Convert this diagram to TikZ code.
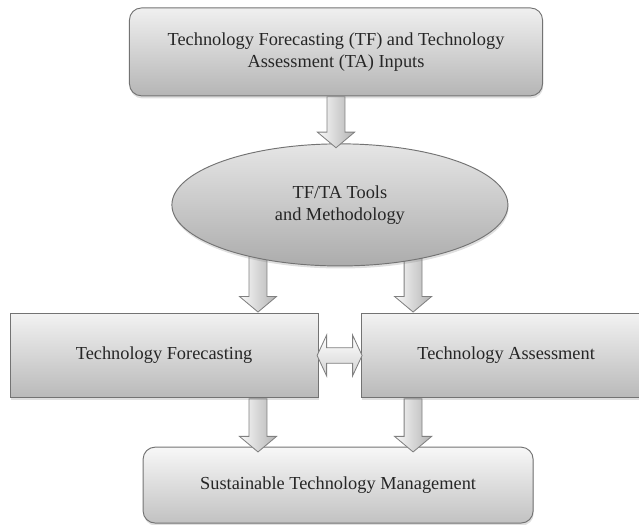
\documentclass[tikz,border=0pt]{standalone}
\usepackage{fontspec}
\setmainfont{Liberation Serif}
\usetikzlibrary{shapes.geometric, shapes.arrows, shadows, backgrounds}

\begin{document}
\begin{tikzpicture}[
  box/.style={draw=black!55,line width=0.9pt,top color=gray!12,bottom color=gray!58,
    inner sep=0pt,align=center,text=black!85,font=\fontsize{17.4}{21}\selectfont,
    drop shadow={opacity=0.25,shadow xshift=0.6pt,shadow yshift=-2.4pt}},
  flow/.style={single arrow,draw=black!50,line width=0.8pt,left color=gray!4,right color=gray!60,
    inner xsep=0pt,inner ysep=0.285cm,single arrow head extend=0.32cm,single arrow tip angle=100,
    rotate=-90},
  link/.style={double arrow,draw=black!50,line width=0.8pt,top color=white,bottom color=gray!35,
    inner xsep=0pt,inner ysep=0.245cm,double arrow head extend=0.42cm,double arrow tip angle=130}
]
\useasboundingbox (0,0) rectangle (21.3,-17.5);

% Inputs
\node[box,rounded corners=0.4cm,minimum width=13.77cm,minimum height=2.93cm] (inputs) at (11.2,-1.73)
  {Technology Forecasting (TF) and Technology\\Assessment (TA) Inputs};

% Tools
\node[box,ellipse,top color=gray!20,bottom color=gray!65,minimum width=11.2cm,minimum height=4.07cm] (tools) at (11.33,-6.83)
  {TF/TA Tools\\and Methodology};

% Forecasting and assessment
\node[box,top color=gray!10,bottom color=gray!55,minimum width=10.27cm,minimum height=2.83cm] (tf) at (5.47,-11.85)
  {Technology Forecasting};
\node[box,top color=gray!10,bottom color=gray!55,minimum width=9.67cm,minimum height=2.83cm] (ta) at (16.87,-11.85)
  {Technology Assessment};

% Management
\node[box,rounded corners=0.4cm,top color=gray!6,bottom color=gray!48,minimum width=13cm,minimum height=2.53cm] (stm) at (11.27,-16.17)
  {Sustainable Technology Management};

% Arrow columns
\coordinate (colL) at (8.6,0);
\coordinate (colR) at (13.77,0);

% Arrows
\node[flow,anchor=tail,minimum height=1.7cm] (a1) at (inputs.south) {};
\begin{pgfonlayer}{background}
\node[flow,anchor=tip,minimum height=2.3cm] (a2) at (tf.north -| colL) {};
\node[flow,anchor=tip,minimum height=2.3cm] (a3) at (ta.north -| colR) {};
\end{pgfonlayer}
\node[flow,anchor=tail,minimum height=1.77cm] (a4) at (tf.south -| colL) {};
\node[flow,anchor=tail,minimum height=1.77cm] (a5) at (ta.south -| colR) {};
\path (tf.east) -- (ta.west) node[midway,link,minimum height=1.5cm] (a6) {};
\end{tikzpicture}
\end{document}
